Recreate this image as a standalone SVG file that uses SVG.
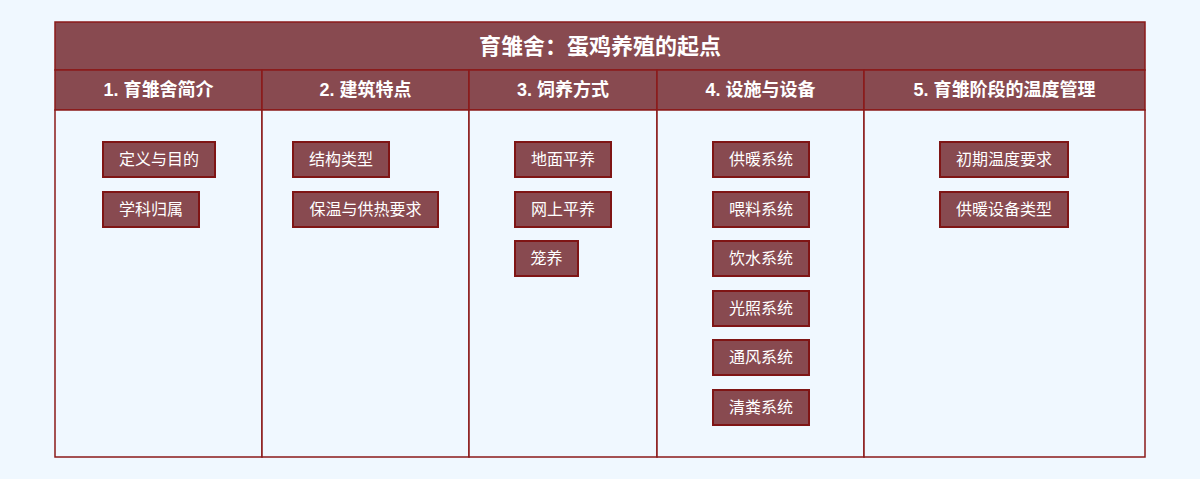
<svg xmlns="http://www.w3.org/2000/svg" width="1200" height="479" viewBox="0 0 1200 479">
<style>
text{font-family:"Liberation Sans","Noto Sans CJK SC",sans-serif;fill:#ffffff;text-anchor:middle;dominant-baseline:central}
.title{font-size:22px;font-weight:bold}
.hdr{font-size:18px;font-weight:bold}
.band{fill:#884a50;stroke:#8b1a1a;stroke-width:1.5}
.col{fill:#f0f8ff;stroke:#8b1a1a;stroke-width:1.5}
.node rect{fill:#884a50;stroke:#7f1515;stroke-width:2}
.node text{font-size:16px}
</style>
<rect width="1200" height="479" fill="#f0f8ff"/>
<g id="frame">
<rect class="band" x="55" y="22" width="1090" height="48"/>
<text class="title" x="600" y="46">育雏舍：蛋鸡养殖的起点</text>
</g>
<g id="col1">
<rect class="band" x="55" y="70" width="207" height="40"/>
<rect class="col" x="55" y="110" width="207" height="347"/>
<text class="hdr" x="158.5" y="90">1. 育雏舍简介</text>
</g>
<g id="col2">
<rect class="band" x="262" y="70" width="207" height="40"/>
<rect class="col" x="262" y="110" width="207" height="347"/>
<text class="hdr" x="365.5" y="90">2. 建筑特点</text>
</g>
<g id="col3">
<rect class="band" x="469" y="70" width="188" height="40"/>
<rect class="col" x="469" y="110" width="188" height="347"/>
<text class="hdr" x="563" y="90">3. 饲养方式</text>
</g>
<g id="col4">
<rect class="band" x="657" y="70" width="207" height="40"/>
<rect class="col" x="657" y="110" width="207" height="347"/>
<text class="hdr" x="760.5" y="90">4. 设施与设备</text>
</g>
<g id="col5">
<rect class="band" x="864" y="70" width="281" height="40"/>
<rect class="col" x="864" y="110" width="281" height="347"/>
<text class="hdr" x="1004.5" y="90">5. 育雏阶段的温度管理</text>
</g>
<g id="connectors"></g>
<g id="n1a" class="node"><rect x="103" y="142" width="112" height="35"/><text x="159" y="159.5">定义与目的</text></g>
<g id="n1b" class="node"><rect x="103" y="192" width="96" height="35"/><text x="151" y="209.5">学科归属</text></g>
<g id="n2a" class="node"><rect x="293" y="142" width="96" height="35"/><text x="341" y="159.5">结构类型</text></g>
<g id="n2b" class="node"><rect x="293" y="192" width="145" height="35"/><text x="365.5" y="209.5">保温与供热要求</text></g>
<g id="n3a" class="node"><rect x="515" y="142" width="96" height="35"/><text x="563" y="159.5">地面平养</text></g>
<g id="n3b" class="node"><rect x="515" y="192" width="96" height="35"/><text x="563" y="209.5">网上平养</text></g>
<g id="n3c" class="node"><rect x="515" y="241" width="63" height="35"/><text x="546.5" y="258.5">笼养</text></g>
<g id="n4a" class="node"><rect x="713" y="142" width="96" height="35"/><text x="761" y="159.5">供暖系统</text></g>
<g id="n4b" class="node"><rect x="713" y="192" width="96" height="35"/><text x="761" y="209.5">喂料系统</text></g>
<g id="n4c" class="node"><rect x="713" y="241" width="96" height="35"/><text x="761" y="258.5">饮水系统</text></g>
<g id="n4d" class="node"><rect x="713" y="291" width="96" height="35"/><text x="761" y="308.5">光照系统</text></g>
<g id="n4e" class="node"><rect x="713" y="340" width="96" height="35"/><text x="761" y="357.5">通风系统</text></g>
<g id="n4f" class="node"><rect x="713" y="390" width="96" height="35"/><text x="761" y="407.5">清粪系统</text></g>
<g id="n5a" class="node"><rect x="940" y="142" width="128" height="35"/><text x="1004" y="159.5">初期温度要求</text></g>
<g id="n5b" class="node"><rect x="940" y="192" width="128" height="35"/><text x="1004" y="209.5">供暖设备类型</text></g>
</svg>
